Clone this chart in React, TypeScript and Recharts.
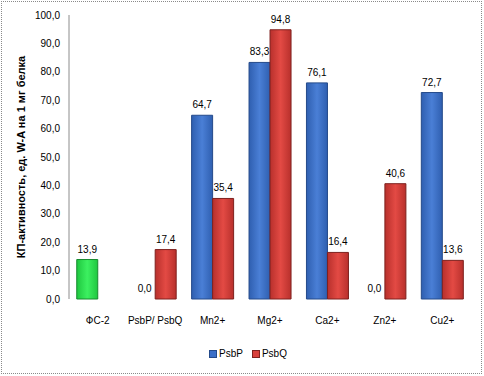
import React from 'react';
import { BarChart, Bar, XAxis, YAxis, LabelList, Cell, Label, ReferenceDot } from 'recharts';

const categories = ['ФС-2', 'PsbP/ PsbQ', 'Mn2+', 'Mg2+', 'Ca2+', 'Zn2+', 'Cu2+'];
const psbP = [13.9, 0.0, 64.7, 83.3, 76.1, 0.0, 72.7];
const psbQ = [null, 17.4, 35.4, 94.8, 16.4, 40.6, 13.6];
const yTicks = [0, 10, 20, 30, 40, 50, 60, 70, 80, 90, 100];

const data = categories.map((name, i) => ({ name, psbP: psbP[i], psbQ: psbQ[i] }));

const fmt = (v: any) => (v === null || v === undefined ? '' : Number(v).toFixed(1).replace('.', ','));

const FONT = '"Liberation Sans", Arial, sans-serif';
const BAR_HALF = 10.5;

const App: React.FC = () => {
  // zero-height bars get no LabelList entry, so their "0,0" labels are drawn at the value via ReferenceDot
  const zeroP = categories.filter((_, i) => psbP[i] === 0);

  return (
    <div style={{ position: 'absolute', left: 0, top: 0, width: 484, height: 376, background: '#fff', fontFamily: FONT }}>
      <BarChart
        width={484}
        height={376}
        data={data}
        margin={{ top: 15, right: 13, left: 9, bottom: 47 }}
        barCategoryGap="13.5%"
        barGap={0}
      >
        <defs>
          <linearGradient id="gBlue" x1="0" y1="0" x2="1" y2="0">
            <stop offset="0%" stopColor="#2F5FB0" />
            <stop offset="50%" stopColor="#4A7FD6" />
            <stop offset="100%" stopColor="#2F5FB0" />
          </linearGradient>
          <linearGradient id="gRed" x1="0" y1="0" x2="1" y2="0">
            <stop offset="0%" stopColor="#B8302C" />
            <stop offset="50%" stopColor="#E34A44" />
            <stop offset="100%" stopColor="#B8302C" />
          </linearGradient>
          <linearGradient id="gGreen" x1="0" y1="0" x2="1" y2="0">
            <stop offset="0%" stopColor="#1FC73F" />
            <stop offset="50%" stopColor="#3CF060" />
            <stop offset="100%" stopColor="#1FC73F" />
          </linearGradient>
        </defs>
        <XAxis
          dataKey="name"
          axisLine={false}
          tickLine={false}
          tickSize={0}
          tickMargin={18}
          height={30}
          interval={0}
          tick={{ fontSize: 10, fill: '#000', fontFamily: FONT }}
        />
        <YAxis
          domain={[0, 100]}
          ticks={yTicks}
          interval={0}
          width={60}
          tickLine={false}
          tickSize={0}
          tickMargin={9}
          tickFormatter={fmt}
          axisLine={{ stroke: '#8c8c8c' }}
          tick={{ fontSize: 10, fill: '#000', fontFamily: FONT }}
        >
          <Label
            content={({ viewBox }: any) => {
              const cy = viewBox.y + viewBox.height / 2;
              return (
                <text
                  x={0}
                  y={0}
                  transform={`translate(21, ${cy}) rotate(-90)`}
                  textAnchor="middle"
                  dominantBaseline="central"
                  fontSize={11}
                  fontWeight="bold"
                  fontFamily={FONT}
                  fill="#000"
                >
                  КП-активность, ед. W-A на 1 мг белка
                </text>
              );
            }}
          />
        </YAxis>
        <Bar dataKey="psbP" fill="url(#gBlue)" stroke="#244a8a" strokeWidth={1} isAnimationActive={false}>
          {data.map((_, i) => (
            <Cell key={i} fill={i === 0 ? 'url(#gGreen)' : 'url(#gBlue)'} stroke={i === 0 ? '#178a2e' : '#244a8a'} />
          ))}
          <LabelList dataKey="psbP" position="top" offset={7} formatter={fmt} style={{ fontSize: 10, fill: '#000', fontFamily: FONT }} />
        </Bar>
        <Bar dataKey="psbQ" fill="url(#gRed)" stroke="#7e211e" strokeWidth={1} isAnimationActive={false}>
          <LabelList dataKey="psbQ" position="top" offset={7} formatter={fmt} style={{ fontSize: 10, fill: '#000', fontFamily: FONT }} />
        </Bar>
        {zeroP.map((c) => (
          <ReferenceDot
            key={c}
            x={c}
            y={0}
            r={0}
            fill="none"
            stroke="none"
            ifOverflow="visible"
            label={({ viewBox }: any) => (
              <text
                x={viewBox.x + viewBox.width / 2 - BAR_HALF}
                y={viewBox.y - 7}
                textAnchor="middle"
                fontSize={10}
                fontFamily={FONT}
                fill="#000"
              >
                {fmt(0)}
              </text>
            )}
          />
        ))}
      </BarChart>

      <div style={{ position: 'absolute', left: 209, top: 348, display: 'flex', alignItems: 'center', fontSize: 10, color: '#000', fontFamily: FONT, lineHeight: '12px' }}>
        <span style={{ width: 6, height: 6, background: '#3A6FC8', border: '1px solid #244a8a', marginRight: 2 }} />
        <span style={{ marginRight: 9 }}>PsbP</span>
        <span style={{ width: 6, height: 6, background: '#D9403B', border: '1px solid #7e211e', marginRight: 2 }} />
        <span>PsbQ</span>
      </div>

      <div style={{ position: 'absolute', left: 1, top: 1, width: 481, height: 373, boxSizing: 'border-box', border: '1px dotted #8a8a8a', pointerEvents: 'none' }} />
    </div>
  );
};

export default App;
